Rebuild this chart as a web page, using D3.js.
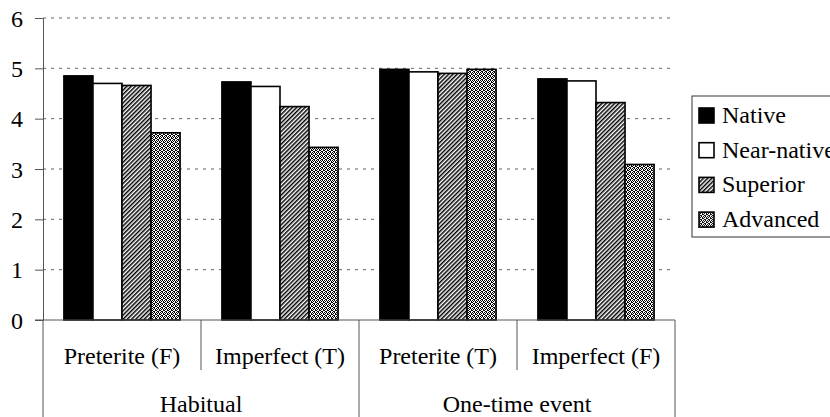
<!DOCTYPE html>
<html>
<head>
<meta charset="utf-8">
<script src="https://cdn.jsdelivr.net/npm/d3@7"></script>
<style>
  body { margin: 0; background: #fff; }
  svg text { font-family: "Liberation Serif", "Times New Roman", serif !important; fill: #000; }
</style>
</head>
<body>
<div id="chart"></div>
<script>
// data
const categories = ["Preterite (F)", "Imperfect (T)", "Preterite (T)", "Imperfect (F)"];
const groups = [
  { name: "Habitual", from: 0, to: 2 },
  { name: "One-time event", from: 2, to: 4 }
];
const series = ["Native", "Near-native", "Superior", "Advanced"];
const native     = [4.85, 4.73, 4.98, 4.79];
const nearNative = [4.70, 4.64, 4.93, 4.75];
const superior   = [4.66, 4.24, 4.90, 4.32];
const advanced   = [3.72, 3.43, 4.98, 3.09];
const yTicks = [0, 1, 2, 3, 4, 5, 6];

const values = [native, nearNative, superior, advanced];
const fills = ["#000", "#fff", "url(#hatch)", "url(#dots)"];

const W = 830, H = 417;
const plotLeft = 43, plotRight = 675, plotTop = 18, base = 320;
const serif = "'Liberation Serif', 'Times New Roman', serif";
const fontSize = 24;

const svg = d3.select("#chart").append("svg")
  .attr("width", W).attr("height", H)
  .attr("font-family", serif);

// patterns
const defs = svg.append("defs");
const hatch = defs.append("pattern")
  .attr("id", "hatch")
  .attr("patternUnits", "userSpaceOnUse")
  .attr("width", 3).attr("height", 3)
  .attr("patternTransform", "rotate(45)");
hatch.append("rect").attr("width", 3).attr("height", 3).attr("fill", "#fff");
hatch.append("rect").attr("width", 1.5).attr("height", 3).attr("fill", "#000");

const dots = defs.append("pattern")
  .attr("id", "dots")
  .attr("patternUnits", "userSpaceOnUse")
  .attr("width", 4).attr("height", 4);
dots.append("rect").attr("width", 4).attr("height", 4).attr("fill", "#fff");
[[0,0],[2,0],[1,1],[3,1],[0,2],[3,2],[1,3],[2,3]].forEach(([px, py]) => {
  dots.append("rect").attr("x", px).attr("y", py).attr("width", 1).attr("height", 1).attr("fill", "#000");
});

// scales
const x0 = d3.scaleBand().domain(categories).range([plotLeft, plotRight]).padding(0);
const x1 = d3.scaleBand().domain(series).range([0, x0.bandwidth()])
  .paddingInner(0).paddingOuter(0.72);
const y = d3.scaleLinear().domain([0, 6]).range([base, plotTop]);

// grid
svg.append("g")
  .selectAll("line")
  .data(yTicks.filter(d => d > 0))
  .join("line")
    .attr("x1", plotLeft).attr("x2", plotRight)
    .attr("y1", d => y(d)).attr("y2", d => y(d))
    .attr("stroke", "#666")
    .attr("stroke-width", 1)
    .attr("stroke-dasharray", "3,5");

// bars
const bars = svg.append("g");
categories.forEach((c, ci) => {
  series.forEach((s, si) => {
    const v = values[si][ci];
    bars.append("rect")
      .attr("x", x0(c) + x1(s))
      .attr("y", y(v))
      .attr("width", x1.bandwidth())
      .attr("height", y(0) - y(v))
      .attr("fill", fills[si])
      .attr("stroke", "#000")
      .attr("stroke-width", 1.6);
  });
});

// y axis
const yAxis = svg.append("g")
  .attr("transform", `translate(${plotLeft},0)`)
  .call(d3.axisLeft(y).tickValues(yTicks).tickFormat(d3.format("d"))
    .tickSize(8).tickSizeOuter(0).tickPadding(12))
  .attr("font-family", serif)
  .attr("font-size", fontSize);
yAxis.select(".domain").attr("stroke", "#555");
yAxis.selectAll(".tick line").attr("stroke", "#555");
yAxis.selectAll("text").attr("fill", "#000").attr("dy", "0.34em");

// x axis line
svg.append("line")
  .attr("x1", plotLeft - 8).attr("x2", plotRight)
  .attr("y1", base).attr("y2", base)
  .attr("stroke", "#555");

// category separators
const catBounds = d3.range(1, categories.length).map(i => x0(categories[i]));
svg.append("g").selectAll("line")
  .data(catBounds.filter((b, i) => !groups.some(g => g.from === i + 1)))
  .join("line")
    .attr("x1", d => d).attr("x2", d => d)
    .attr("y1", base).attr("y2", base + 50)
    .attr("stroke", "#555");

// group separators (full height)
const groupBounds = [plotLeft].concat(groups.map(g => g.to < categories.length ? x0(categories[g.to]) : plotRight));
svg.append("g").selectAll("line")
  .data(groupBounds)
  .join("line")
    .attr("x1", d => d).attr("x2", d => d)
    .attr("y1", base).attr("y2", H)
    .attr("stroke", "#555");

// category labels
svg.append("g").selectAll("text")
  .data(categories)
  .join("text")
    .attr("x", d => x0(d) + x0.bandwidth() / 2)
    .attr("y", 364)
    .attr("text-anchor", "middle")
    .attr("font-family", serif)
    .attr("font-size", fontSize)
    .text(d => d);

// group labels
svg.append("g").selectAll("text")
  .data(groups)
  .join("text")
    .attr("x", g => (x0(categories[g.from]) + x0(categories[g.to - 1]) + x0.bandwidth()) / 2)
    .attr("y", 412)
    .attr("text-anchor", "middle")
    .attr("font-family", serif)
    .attr("font-size", fontSize)
    .text(g => g.name);

// legend
const lg = svg.append("g").attr("transform", "translate(692,96)");
lg.append("rect")
  .attr("width", 160).attr("height", 141)
  .attr("fill", "#fff").attr("stroke", "#333").attr("stroke-width", 1);
series.forEach((s, i) => {
  const row = lg.append("g").attr("transform", `translate(7,${12 + i * 34.7})`);
  row.append("rect")
    .attr("width", 15).attr("height", 15)
    .attr("fill", fills[i]).attr("stroke", "#000").attr("stroke-width", 1.6);
  row.append("text")
    .attr("x", 23).attr("y", 15)
    .attr("font-family", serif)
    .attr("font-size", fontSize)
    .text(s);
});
</script>
</body>
</html>
